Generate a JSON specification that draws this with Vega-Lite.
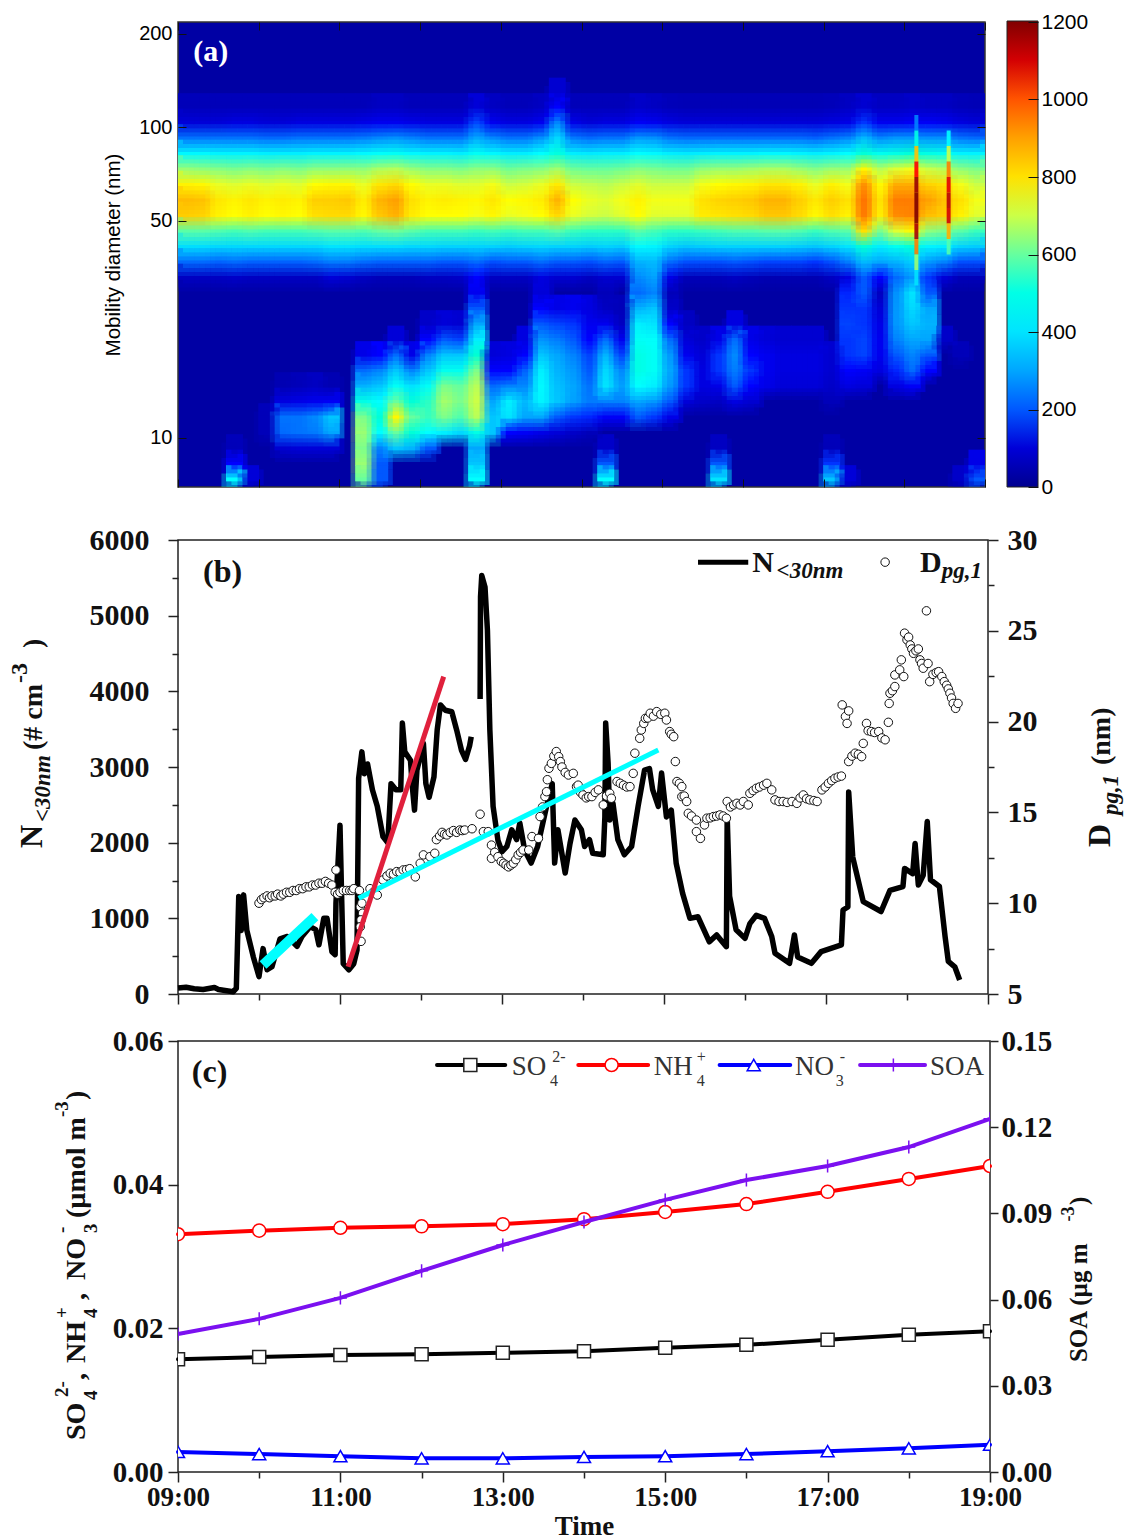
{"$schema":"https://vega.github.io/schema/vega-lite/v6.json","background":"white","padding":{"left":7,"top":10,"right":140,"bottom":70},"config":{"axis":{"grid":false,"labelOverlap":false,"labelBound":false,"labelFlush":false},"text":{"font":"Liberation Serif","color":"#111"}},"bounds":"flush","spacing":53,
"datasets":{"spike":[
{"t":18.0,"d":104,"v":250},{"t":18.0,"d":92,"v":500},{"t":18.0,"d":82,"v":850},{"t":18.0,"d":73,"v":1050},{"t":18.0,"d":65,"v":1170},{"t":18.0,"d":58,"v":1200},{"t":18.0,"d":52,"v":1200},{"t":18.0,"d":46,"v":1150},{"t":18.0,"d":41,"v":950},{"t":18.0,"d":37,"v":650},{"t":18.0,"d":33,"v":400},
{"t":18.4,"d":92,"v":450},{"t":18.4,"d":82,"v":700},{"t":18.4,"d":73,"v":950},{"t":18.4,"d":65,"v":1080},{"t":18.4,"d":58,"v":1130},{"t":18.4,"d":52,"v":1100},{"t":18.4,"d":46,"v":880},{"t":18.4,"d":41,"v":580}
],"heat":[
{"t":9.0,"d":116,"v":60},{"t":9.0,"d":104,"v":100},{"t":9.0,"d":92,"v":230},{"t":9.0,"d":82,"v":440},{"t":9.0,"d":73,"v":650},{"t":9.0,"d":65,"v":770},{"t":9.0,"d":58,"v":860},{"t":9.0,"d":52,"v":830},{"t":9.0,"d":46,"v":590},{"t":9.0,"d":41,"v":390},{"t":9.0,"d":37,"v":220},{"t":9.0,"d":33,"v":70},
{"t":9.2,"d":116,"v":60},{"t":9.2,"d":104,"v":100},{"t":9.2,"d":92,"v":230},{"t":9.2,"d":82,"v":440},{"t":9.2,"d":73,"v":640},{"t":9.2,"d":65,"v":760},{"t":9.2,"d":58,"v":850},{"t":9.2,"d":52,"v":820},{"t":9.2,"d":46,"v":590},{"t":9.2,"d":41,"v":390},{"t":9.2,"d":37,"v":220},{"t":9.2,"d":33,"v":70},
{"t":9.4,"d":116,"v":60},{"t":9.4,"d":104,"v":100},{"t":9.4,"d":92,"v":230},{"t":9.4,"d":82,"v":430},{"t":9.4,"d":73,"v":630},{"t":9.4,"d":65,"v":730},{"t":9.4,"d":58,"v":790},{"t":9.4,"d":52,"v":770},{"t":9.4,"d":46,"v":580},{"t":9.4,"d":41,"v":380},{"t":9.4,"d":37,"v":210},{"t":9.4,"d":33,"v":70},
{"t":9.6,"d":116,"v":60},{"t":9.6,"d":104,"v":110},{"t":9.6,"d":92,"v":230},{"t":9.6,"d":82,"v":430},{"t":9.6,"d":73,"v":620},{"t":9.6,"d":65,"v":720},{"t":9.6,"d":58,"v":770},{"t":9.6,"d":52,"v":750},{"t":9.6,"d":46,"v":570},{"t":9.6,"d":41,"v":380},{"t":9.6,"d":37,"v":220},{"t":9.6,"d":33,"v":80},{"t":9.6,"d":9,"v":60},{"t":9.6,"d":8,"v":150},{"t":9.6,"d":7,"v":450},
{"t":9.8,"d":116,"v":60},{"t":9.8,"d":104,"v":110},{"t":9.8,"d":92,"v":230},{"t":9.8,"d":82,"v":430},{"t":9.8,"d":73,"v":630},{"t":9.8,"d":65,"v":730},{"t":9.8,"d":58,"v":790},{"t":9.8,"d":52,"v":770},{"t":9.8,"d":46,"v":580},{"t":9.8,"d":41,"v":380},{"t":9.8,"d":37,"v":210},{"t":9.8,"d":33,"v":70},{"t":9.8,"d":7,"v":100},
{"t":10.0,"d":116,"v":60},{"t":10.0,"d":104,"v":100},{"t":10.0,"d":92,"v":220},{"t":10.0,"d":82,"v":420},{"t":10.0,"d":73,"v":620},{"t":10.0,"d":65,"v":720},{"t":10.0,"d":58,"v":770},{"t":10.0,"d":52,"v":750},{"t":10.0,"d":46,"v":570},{"t":10.0,"d":41,"v":380},{"t":10.0,"d":37,"v":210},{"t":10.0,"d":33,"v":70},{"t":10.0,"d":12,"v":60},{"t":10.0,"d":10,"v":60},
{"t":10.2,"d":116,"v":60},{"t":10.2,"d":104,"v":100},{"t":10.2,"d":92,"v":220},{"t":10.2,"d":82,"v":420},{"t":10.2,"d":73,"v":630},{"t":10.2,"d":65,"v":730},{"t":10.2,"d":58,"v":780},{"t":10.2,"d":52,"v":760},{"t":10.2,"d":46,"v":570},{"t":10.2,"d":41,"v":380},{"t":10.2,"d":37,"v":210},{"t":10.2,"d":33,"v":70},{"t":10.2,"d":15,"v":50},{"t":10.2,"d":13,"v":110},{"t":10.2,"d":12,"v":230},{"t":10.2,"d":10,"v":220},{"t":10.2,"d":9,"v":90},
{"t":10.4,"d":116,"v":60},{"t":10.4,"d":104,"v":110},{"t":10.4,"d":92,"v":230},{"t":10.4,"d":82,"v":420},{"t":10.4,"d":73,"v":620},{"t":10.4,"d":65,"v":720},{"t":10.4,"d":58,"v":770},{"t":10.4,"d":52,"v":750},{"t":10.4,"d":46,"v":570},{"t":10.4,"d":41,"v":380},{"t":10.4,"d":37,"v":210},{"t":10.4,"d":33,"v":70},{"t":10.4,"d":15,"v":60},{"t":10.4,"d":13,"v":120},{"t":10.4,"d":12,"v":230},{"t":10.4,"d":10,"v":230},{"t":10.4,"d":9,"v":100},
{"t":10.6,"d":116,"v":60},{"t":10.6,"d":104,"v":110},{"t":10.6,"d":92,"v":230},{"t":10.6,"d":82,"v":430},{"t":10.6,"d":73,"v":640},{"t":10.6,"d":65,"v":750},{"t":10.6,"d":58,"v":830},{"t":10.6,"d":52,"v":800},{"t":10.6,"d":46,"v":580},{"t":10.6,"d":41,"v":380},{"t":10.6,"d":37,"v":220},{"t":10.6,"d":33,"v":70},{"t":10.6,"d":15,"v":70},{"t":10.6,"d":13,"v":130},{"t":10.6,"d":12,"v":260},{"t":10.6,"d":10,"v":240},{"t":10.6,"d":9,"v":100},
{"t":10.8,"d":116,"v":60},{"t":10.8,"d":104,"v":110},{"t":10.8,"d":92,"v":230},{"t":10.8,"d":82,"v":430},{"t":10.8,"d":73,"v":640},{"t":10.8,"d":65,"v":760},{"t":10.8,"d":58,"v":830},{"t":10.8,"d":52,"v":810},{"t":10.8,"d":46,"v":590},{"t":10.8,"d":41,"v":400},{"t":10.8,"d":37,"v":240},{"t":10.8,"d":33,"v":100},{"t":10.8,"d":15,"v":50},{"t":10.8,"d":13,"v":140},{"t":10.8,"d":12,"v":350},{"t":10.8,"d":10,"v":300},{"t":10.8,"d":9,"v":100},
{"t":11.0,"d":116,"v":60},{"t":11.0,"d":104,"v":110},{"t":11.0,"d":92,"v":230},{"t":11.0,"d":82,"v":430},{"t":11.0,"d":73,"v":640},{"t":11.0,"d":65,"v":760},{"t":11.0,"d":58,"v":840},{"t":11.0,"d":52,"v":810},{"t":11.0,"d":46,"v":590},{"t":11.0,"d":41,"v":400},{"t":11.0,"d":37,"v":240},{"t":11.0,"d":33,"v":90},
{"t":11.2,"d":116,"v":60},{"t":11.2,"d":104,"v":120},{"t":11.2,"d":92,"v":240},{"t":11.2,"d":82,"v":440},{"t":11.2,"d":73,"v":640},{"t":11.2,"d":65,"v":730},{"t":11.2,"d":58,"v":780},{"t":11.2,"d":52,"v":760},{"t":11.2,"d":46,"v":580},{"t":11.2,"d":41,"v":390},{"t":11.2,"d":37,"v":220},{"t":11.2,"d":33,"v":70},{"t":11.2,"d":18,"v":120},{"t":11.2,"d":16,"v":220},{"t":11.2,"d":15,"v":320},{"t":11.2,"d":13,"v":500},{"t":11.2,"d":12,"v":620},{"t":11.2,"d":10,"v":650},{"t":11.2,"d":9,"v":620},{"t":11.2,"d":8,"v":650},{"t":11.2,"d":7,"v":600},
{"t":11.4,"d":116,"v":70},{"t":11.4,"d":104,"v":130},{"t":11.4,"d":92,"v":260},{"t":11.4,"d":82,"v":460},{"t":11.4,"d":73,"v":670},{"t":11.4,"d":65,"v":790},{"t":11.4,"d":58,"v":870},{"t":11.4,"d":52,"v":840},{"t":11.4,"d":46,"v":600},{"t":11.4,"d":41,"v":390},{"t":11.4,"d":37,"v":210},{"t":11.4,"d":33,"v":60},{"t":11.4,"d":18,"v":150},{"t":11.4,"d":16,"v":250},{"t":11.4,"d":15,"v":350},{"t":11.4,"d":13,"v":450},{"t":11.4,"d":12,"v":520},{"t":11.4,"d":10,"v":450},{"t":11.4,"d":9,"v":250},{"t":11.4,"d":8,"v":200},{"t":11.4,"d":7,"v":200},
{"t":11.6,"d":116,"v":70},{"t":11.6,"d":104,"v":130},{"t":11.6,"d":92,"v":270},{"t":11.6,"d":82,"v":470},{"t":11.6,"d":73,"v":680},{"t":11.6,"d":65,"v":810},{"t":11.6,"d":58,"v":900},{"t":11.6,"d":52,"v":870},{"t":11.6,"d":46,"v":610},{"t":11.6,"d":41,"v":390},{"t":11.6,"d":37,"v":210},{"t":11.6,"d":33,"v":60},{"t":11.6,"d":21,"v":100},{"t":11.6,"d":18,"v":220},{"t":11.6,"d":16,"v":350},{"t":11.6,"d":15,"v":470},{"t":11.6,"d":13,"v":600},{"t":11.6,"d":12,"v":760},{"t":11.6,"d":10,"v":600},{"t":11.6,"d":9,"v":350},
{"t":11.8,"d":116,"v":60},{"t":11.8,"d":104,"v":120},{"t":11.8,"d":92,"v":250},{"t":11.8,"d":82,"v":440},{"t":11.8,"d":73,"v":650},{"t":11.8,"d":65,"v":750},{"t":11.8,"d":58,"v":800},{"t":11.8,"d":52,"v":780},{"t":11.8,"d":46,"v":590},{"t":11.8,"d":41,"v":380},{"t":11.8,"d":37,"v":210},{"t":11.8,"d":33,"v":60},{"t":11.8,"d":18,"v":120},{"t":11.8,"d":16,"v":250},{"t":11.8,"d":15,"v":400},{"t":11.8,"d":13,"v":520},{"t":11.8,"d":12,"v":600},{"t":11.8,"d":10,"v":520},{"t":11.8,"d":9,"v":320},
{"t":12.0,"d":116,"v":60},{"t":12.0,"d":104,"v":110},{"t":12.0,"d":92,"v":230},{"t":12.0,"d":82,"v":430},{"t":12.0,"d":73,"v":630},{"t":12.0,"d":65,"v":730},{"t":12.0,"d":58,"v":770},{"t":12.0,"d":52,"v":750},{"t":12.0,"d":46,"v":570},{"t":12.0,"d":41,"v":380},{"t":12.0,"d":37,"v":210},{"t":12.0,"d":33,"v":70},{"t":12.0,"d":23,"v":80},{"t":12.0,"d":21,"v":150},{"t":12.0,"d":18,"v":250},{"t":12.0,"d":16,"v":350},{"t":12.0,"d":15,"v":470},{"t":12.0,"d":13,"v":550},{"t":12.0,"d":12,"v":560},{"t":12.0,"d":10,"v":450},{"t":12.0,"d":9,"v":200},
{"t":12.2,"d":116,"v":60},{"t":12.2,"d":104,"v":110},{"t":12.2,"d":92,"v":230},{"t":12.2,"d":82,"v":430},{"t":12.2,"d":73,"v":630},{"t":12.2,"d":65,"v":730},{"t":12.2,"d":58,"v":780},{"t":12.2,"d":52,"v":750},{"t":12.2,"d":46,"v":570},{"t":12.2,"d":41,"v":370},{"t":12.2,"d":37,"v":200},{"t":12.2,"d":33,"v":70},{"t":12.2,"d":23,"v":100},{"t":12.2,"d":21,"v":200},{"t":12.2,"d":18,"v":350},{"t":12.2,"d":16,"v":480},{"t":12.2,"d":15,"v":620},{"t":12.2,"d":13,"v":660},{"t":12.2,"d":12,"v":620},{"t":12.2,"d":10,"v":420},
{"t":12.4,"d":116,"v":60},{"t":12.4,"d":104,"v":110},{"t":12.4,"d":92,"v":230},{"t":12.4,"d":82,"v":420},{"t":12.4,"d":73,"v":620},{"t":12.4,"d":65,"v":720},{"t":12.4,"d":58,"v":770},{"t":12.4,"d":52,"v":750},{"t":12.4,"d":46,"v":570},{"t":12.4,"d":41,"v":370},{"t":12.4,"d":37,"v":200},{"t":12.4,"d":33,"v":80},{"t":12.4,"d":23,"v":90},{"t":12.4,"d":21,"v":180},{"t":12.4,"d":18,"v":350},{"t":12.4,"d":16,"v":480},{"t":12.4,"d":15,"v":600},{"t":12.4,"d":13,"v":620},{"t":12.4,"d":12,"v":580},{"t":12.4,"d":10,"v":380},
{"t":12.6,"d":116,"v":100},{"t":12.6,"d":104,"v":180},{"t":12.6,"d":92,"v":300},{"t":12.6,"d":82,"v":470},{"t":12.6,"d":73,"v":640},{"t":12.6,"d":65,"v":720},{"t":12.6,"d":58,"v":760},{"t":12.6,"d":52,"v":740},{"t":12.6,"d":46,"v":560},{"t":12.6,"d":41,"v":370},{"t":12.6,"d":37,"v":220},{"t":12.6,"d":33,"v":150},{"t":12.6,"d":29,"v":130},{"t":12.6,"d":26,"v":200},{"t":12.6,"d":23,"v":300},{"t":12.6,"d":21,"v":420},{"t":12.6,"d":18,"v":530},{"t":12.6,"d":16,"v":620},{"t":12.6,"d":15,"v":680},{"t":12.6,"d":13,"v":700},{"t":12.6,"d":12,"v":680},{"t":12.6,"d":10,"v":500},{"t":12.6,"d":9,"v":300},{"t":12.6,"d":8,"v":350},{"t":12.6,"d":7,"v":450},
{"t":12.8,"d":116,"v":70},{"t":12.8,"d":104,"v":130},{"t":12.8,"d":92,"v":260},{"t":12.8,"d":82,"v":440},{"t":12.8,"d":73,"v":640},{"t":12.8,"d":65,"v":740},{"t":12.8,"d":58,"v":790},{"t":12.8,"d":52,"v":760},{"t":12.8,"d":46,"v":570},{"t":12.8,"d":41,"v":370},{"t":12.8,"d":37,"v":190},{"t":12.8,"d":33,"v":70},{"t":12.8,"d":18,"v":100},{"t":12.8,"d":16,"v":150},{"t":12.8,"d":15,"v":220},{"t":12.8,"d":13,"v":300},{"t":12.8,"d":12,"v":350},{"t":12.8,"d":10,"v":350},
{"t":13.0,"d":116,"v":60},{"t":13.0,"d":104,"v":110},{"t":13.0,"d":92,"v":230},{"t":13.0,"d":82,"v":420},{"t":13.0,"d":73,"v":610},{"t":13.0,"d":65,"v":700},{"t":13.0,"d":58,"v":750},{"t":13.0,"d":52,"v":730},{"t":13.0,"d":46,"v":560},{"t":13.0,"d":41,"v":360},{"t":13.0,"d":37,"v":200},{"t":13.0,"d":33,"v":70},{"t":13.0,"d":18,"v":110},{"t":13.0,"d":16,"v":150},{"t":13.0,"d":15,"v":250},{"t":13.0,"d":13,"v":420},{"t":13.0,"d":12,"v":400},{"t":13.0,"d":10,"v":150},
{"t":13.2,"d":116,"v":60},{"t":13.2,"d":104,"v":110},{"t":13.2,"d":92,"v":230},{"t":13.2,"d":82,"v":420},{"t":13.2,"d":73,"v":620},{"t":13.2,"d":65,"v":710},{"t":13.2,"d":58,"v":760},{"t":13.2,"d":52,"v":740},{"t":13.2,"d":46,"v":570},{"t":13.2,"d":41,"v":370},{"t":13.2,"d":37,"v":200},{"t":13.2,"d":33,"v":70},{"t":13.2,"d":21,"v":110},{"t":13.2,"d":18,"v":150},{"t":13.2,"d":16,"v":210},{"t":13.2,"d":15,"v":260},{"t":13.2,"d":13,"v":330},{"t":13.2,"d":12,"v":300},{"t":13.2,"d":10,"v":140},
{"t":13.4,"d":116,"v":70},{"t":13.4,"d":104,"v":130},{"t":13.4,"d":92,"v":270},{"t":13.4,"d":82,"v":450},{"t":13.4,"d":73,"v":630},{"t":13.4,"d":65,"v":730},{"t":13.4,"d":58,"v":780},{"t":13.4,"d":52,"v":750},{"t":13.4,"d":46,"v":570},{"t":13.4,"d":41,"v":380},{"t":13.4,"d":37,"v":220},{"t":13.4,"d":33,"v":110},{"t":13.4,"d":29,"v":100},{"t":13.4,"d":26,"v":150},{"t":13.4,"d":23,"v":200},{"t":13.4,"d":21,"v":270},{"t":13.4,"d":18,"v":350},{"t":13.4,"d":16,"v":420},{"t":13.4,"d":15,"v":440},{"t":13.4,"d":13,"v":430},{"t":13.4,"d":12,"v":300},{"t":13.4,"d":10,"v":120},
{"t":13.6,"d":130,"v":90},{"t":13.6,"d":116,"v":150},{"t":13.6,"d":104,"v":250},{"t":13.6,"d":92,"v":380},{"t":13.6,"d":82,"v":510},{"t":13.6,"d":73,"v":660},{"t":13.6,"d":65,"v":780},{"t":13.6,"d":58,"v":870},{"t":13.6,"d":52,"v":810},{"t":13.6,"d":46,"v":590},{"t":13.6,"d":41,"v":370},{"t":13.6,"d":37,"v":200},{"t":13.6,"d":33,"v":90},{"t":13.6,"d":26,"v":120},{"t":13.6,"d":23,"v":180},{"t":13.6,"d":21,"v":240},{"t":13.6,"d":18,"v":300},{"t":13.6,"d":16,"v":320},{"t":13.6,"d":15,"v":340},{"t":13.6,"d":13,"v":350},{"t":13.6,"d":12,"v":200},{"t":13.6,"d":10,"v":100},
{"t":13.8,"d":116,"v":60},{"t":13.8,"d":104,"v":120},{"t":13.8,"d":92,"v":240},{"t":13.8,"d":82,"v":420},{"t":13.8,"d":73,"v":610},{"t":13.8,"d":65,"v":700},{"t":13.8,"d":58,"v":750},{"t":13.8,"d":52,"v":730},{"t":13.8,"d":46,"v":560},{"t":13.8,"d":41,"v":370},{"t":13.8,"d":37,"v":200},{"t":13.8,"d":33,"v":90},{"t":13.8,"d":26,"v":130},{"t":13.8,"d":23,"v":170},{"t":13.8,"d":21,"v":200},{"t":13.8,"d":18,"v":250},{"t":13.8,"d":16,"v":280},{"t":13.8,"d":15,"v":300},{"t":13.8,"d":13,"v":290},{"t":13.8,"d":12,"v":170},{"t":13.8,"d":10,"v":80},
{"t":14.0,"d":116,"v":60},{"t":14.0,"d":104,"v":100},{"t":14.0,"d":92,"v":220},{"t":14.0,"d":82,"v":410},{"t":14.0,"d":73,"v":600},{"t":14.0,"d":65,"v":690},{"t":14.0,"d":58,"v":730},{"t":14.0,"d":52,"v":710},{"t":14.0,"d":46,"v":550},{"t":14.0,"d":41,"v":360},{"t":14.0,"d":37,"v":190},{"t":14.0,"d":33,"v":70},{"t":14.0,"d":26,"v":110},{"t":14.0,"d":23,"v":130},{"t":14.0,"d":21,"v":150},{"t":14.0,"d":18,"v":180},{"t":14.0,"d":16,"v":200},{"t":14.0,"d":15,"v":230},{"t":14.0,"d":13,"v":240},{"t":14.0,"d":12,"v":160},{"t":14.0,"d":10,"v":60},
{"t":14.2,"d":116,"v":60},{"t":14.2,"d":104,"v":110},{"t":14.2,"d":92,"v":230},{"t":14.2,"d":82,"v":420},{"t":14.2,"d":73,"v":600},{"t":14.2,"d":65,"v":680},{"t":14.2,"d":58,"v":720},{"t":14.2,"d":52,"v":700},{"t":14.2,"d":46,"v":550},{"t":14.2,"d":41,"v":370},{"t":14.2,"d":37,"v":210},{"t":14.2,"d":33,"v":90},{"t":14.2,"d":29,"v":60},{"t":14.2,"d":26,"v":70},{"t":14.2,"d":23,"v":130},{"t":14.2,"d":21,"v":220},{"t":14.2,"d":18,"v":320},{"t":14.2,"d":16,"v":380},{"t":14.2,"d":15,"v":400},{"t":14.2,"d":13,"v":250},{"t":14.2,"d":12,"v":140},{"t":14.2,"d":9,"v":80},{"t":14.2,"d":8,"v":200},{"t":14.2,"d":7,"v":450},
{"t":14.4,"d":116,"v":60},{"t":14.4,"d":104,"v":110},{"t":14.4,"d":92,"v":230},{"t":14.4,"d":82,"v":420},{"t":14.4,"d":73,"v":610},{"t":14.4,"d":65,"v":700},{"t":14.4,"d":58,"v":740},{"t":14.4,"d":52,"v":720},{"t":14.4,"d":46,"v":550},{"t":14.4,"d":41,"v":360},{"t":14.4,"d":37,"v":200},{"t":14.4,"d":33,"v":90},{"t":14.4,"d":26,"v":60},{"t":14.4,"d":23,"v":70},{"t":14.4,"d":21,"v":130},{"t":14.4,"d":18,"v":180},{"t":14.4,"d":16,"v":260},{"t":14.4,"d":15,"v":290},{"t":14.4,"d":13,"v":250},{"t":14.4,"d":12,"v":140},
{"t":14.6,"d":116,"v":80},{"t":14.6,"d":104,"v":140},{"t":14.6,"d":92,"v":280},{"t":14.6,"d":82,"v":450},{"t":14.6,"d":73,"v":630},{"t":14.6,"d":65,"v":720},{"t":14.6,"d":58,"v":770},{"t":14.6,"d":52,"v":750},{"t":14.6,"d":46,"v":590},{"t":14.6,"d":41,"v":440},{"t":14.6,"d":37,"v":320},{"t":14.6,"d":33,"v":260},{"t":14.6,"d":29,"v":220},{"t":14.6,"d":26,"v":320},{"t":14.6,"d":23,"v":420},{"t":14.6,"d":21,"v":470},{"t":14.6,"d":18,"v":500},{"t":14.6,"d":16,"v":500},{"t":14.6,"d":15,"v":450},{"t":14.6,"d":13,"v":300},{"t":14.6,"d":12,"v":200},
{"t":14.8,"d":116,"v":70},{"t":14.8,"d":104,"v":130},{"t":14.8,"d":92,"v":270},{"t":14.8,"d":82,"v":440},{"t":14.8,"d":73,"v":620},{"t":14.8,"d":65,"v":700},{"t":14.8,"d":58,"v":740},{"t":14.8,"d":52,"v":720},{"t":14.8,"d":46,"v":570},{"t":14.8,"d":41,"v":430},{"t":14.8,"d":37,"v":330},{"t":14.8,"d":33,"v":290},{"t":14.8,"d":29,"v":250},{"t":14.8,"d":26,"v":350},{"t":14.8,"d":23,"v":400},{"t":14.8,"d":21,"v":460},{"t":14.8,"d":18,"v":470},{"t":14.8,"d":16,"v":470},{"t":14.8,"d":15,"v":420},{"t":14.8,"d":13,"v":280},{"t":14.8,"d":12,"v":170},
{"t":15.0,"d":116,"v":60},{"t":15.0,"d":104,"v":110},{"t":15.0,"d":92,"v":230},{"t":15.0,"d":82,"v":420},{"t":15.0,"d":73,"v":610},{"t":15.0,"d":65,"v":700},{"t":15.0,"d":58,"v":740},{"t":15.0,"d":52,"v":720},{"t":15.0,"d":46,"v":550},{"t":15.0,"d":41,"v":370},{"t":15.0,"d":37,"v":220},{"t":15.0,"d":33,"v":120},{"t":15.0,"d":29,"v":60},{"t":15.0,"d":26,"v":80},{"t":15.0,"d":23,"v":150},{"t":15.0,"d":21,"v":220},{"t":15.0,"d":18,"v":280},{"t":15.0,"d":16,"v":300},{"t":15.0,"d":15,"v":280},{"t":15.0,"d":13,"v":200},{"t":15.0,"d":12,"v":120},
{"t":15.2,"d":116,"v":55},{"t":15.2,"d":104,"v":100},{"t":15.2,"d":92,"v":220},{"t":15.2,"d":82,"v":410},{"t":15.2,"d":73,"v":610},{"t":15.2,"d":65,"v":700},{"t":15.2,"d":58,"v":740},{"t":15.2,"d":52,"v":720},{"t":15.2,"d":46,"v":550},{"t":15.2,"d":41,"v":350},{"t":15.2,"d":37,"v":190},{"t":15.2,"d":33,"v":60},{"t":15.2,"d":23,"v":70},{"t":15.2,"d":21,"v":100},{"t":15.2,"d":18,"v":130},{"t":15.2,"d":16,"v":170},{"t":15.2,"d":15,"v":170},{"t":15.2,"d":13,"v":100},
{"t":15.4,"d":116,"v":55},{"t":15.4,"d":104,"v":100},{"t":15.4,"d":92,"v":220},{"t":15.4,"d":82,"v":420},{"t":15.4,"d":73,"v":640},{"t":15.4,"d":65,"v":740},{"t":15.4,"d":58,"v":800},{"t":15.4,"d":52,"v":780},{"t":15.4,"d":46,"v":560},{"t":15.4,"d":41,"v":360},{"t":15.4,"d":37,"v":190},{"t":15.4,"d":33,"v":60},{"t":15.4,"d":21,"v":80},{"t":15.4,"d":18,"v":100},{"t":15.4,"d":16,"v":110},{"t":15.4,"d":15,"v":110},{"t":15.4,"d":13,"v":80},
{"t":15.6,"d":116,"v":55},{"t":15.6,"d":104,"v":100},{"t":15.6,"d":92,"v":220},{"t":15.6,"d":82,"v":430},{"t":15.6,"d":73,"v":650},{"t":15.6,"d":65,"v":750},{"t":15.6,"d":58,"v":820},{"t":15.6,"d":52,"v":790},{"t":15.6,"d":46,"v":570},{"t":15.6,"d":41,"v":370},{"t":15.6,"d":37,"v":190},{"t":15.6,"d":33,"v":60},{"t":15.6,"d":21,"v":120},{"t":15.6,"d":18,"v":170},{"t":15.6,"d":16,"v":170},{"t":15.6,"d":15,"v":120},{"t":15.6,"d":13,"v":70},{"t":15.6,"d":9,"v":70},{"t":15.6,"d":8,"v":200},{"t":15.6,"d":7,"v":400},
{"t":15.8,"d":116,"v":55},{"t":15.8,"d":104,"v":100},{"t":15.8,"d":92,"v":220},{"t":15.8,"d":82,"v":430},{"t":15.8,"d":73,"v":650},{"t":15.8,"d":65,"v":760},{"t":15.8,"d":58,"v":830},{"t":15.8,"d":52,"v":800},{"t":15.8,"d":46,"v":580},{"t":15.8,"d":41,"v":370},{"t":15.8,"d":37,"v":200},{"t":15.8,"d":33,"v":70},{"t":15.8,"d":23,"v":110},{"t":15.8,"d":21,"v":220},{"t":15.8,"d":18,"v":260},{"t":15.8,"d":16,"v":240},{"t":15.8,"d":15,"v":200},{"t":15.8,"d":13,"v":110},
{"t":16.0,"d":116,"v":55},{"t":16.0,"d":104,"v":100},{"t":16.0,"d":92,"v":220},{"t":16.0,"d":82,"v":430},{"t":16.0,"d":73,"v":660},{"t":16.0,"d":65,"v":770},{"t":16.0,"d":58,"v":840},{"t":16.0,"d":52,"v":810},{"t":16.0,"d":46,"v":580},{"t":16.0,"d":41,"v":370},{"t":16.0,"d":37,"v":190},{"t":16.0,"d":33,"v":60},{"t":16.0,"d":21,"v":120},{"t":16.0,"d":18,"v":150},{"t":16.0,"d":16,"v":170},{"t":16.0,"d":15,"v":150},{"t":16.0,"d":13,"v":90},
{"t":16.2,"d":116,"v":55},{"t":16.2,"d":104,"v":100},{"t":16.2,"d":92,"v":220},{"t":16.2,"d":82,"v":440},{"t":16.2,"d":73,"v":670},{"t":16.2,"d":65,"v":790},{"t":16.2,"d":58,"v":870},{"t":16.2,"d":52,"v":840},{"t":16.2,"d":46,"v":590},{"t":16.2,"d":41,"v":370},{"t":16.2,"d":37,"v":180},{"t":16.2,"d":33,"v":50},{"t":16.2,"d":21,"v":100},{"t":16.2,"d":18,"v":130},{"t":16.2,"d":16,"v":130},{"t":16.2,"d":15,"v":120},
{"t":16.4,"d":116,"v":55},{"t":16.4,"d":104,"v":100},{"t":16.4,"d":92,"v":220},{"t":16.4,"d":82,"v":440},{"t":16.4,"d":73,"v":670},{"t":16.4,"d":65,"v":790},{"t":16.4,"d":58,"v":870},{"t":16.4,"d":52,"v":840},{"t":16.4,"d":46,"v":590},{"t":16.4,"d":41,"v":370},{"t":16.4,"d":37,"v":180},{"t":16.4,"d":33,"v":50},{"t":16.4,"d":21,"v":90},{"t":16.4,"d":18,"v":110},{"t":16.4,"d":16,"v":110},{"t":16.4,"d":15,"v":100},
{"t":16.6,"d":116,"v":55},{"t":16.6,"d":104,"v":100},{"t":16.6,"d":92,"v":220},{"t":16.6,"d":82,"v":430},{"t":16.6,"d":73,"v":650},{"t":16.6,"d":65,"v":770},{"t":16.6,"d":58,"v":830},{"t":16.6,"d":52,"v":810},{"t":16.6,"d":46,"v":580},{"t":16.6,"d":41,"v":360},{"t":16.6,"d":37,"v":180},{"t":16.6,"d":33,"v":50},{"t":16.6,"d":21,"v":90},{"t":16.6,"d":18,"v":110},{"t":16.6,"d":16,"v":110},{"t":16.6,"d":15,"v":100},
{"t":16.8,"d":116,"v":55},{"t":16.8,"d":104,"v":100},{"t":16.8,"d":92,"v":210},{"t":16.8,"d":82,"v":420},{"t":16.8,"d":73,"v":630},{"t":16.8,"d":65,"v":730},{"t":16.8,"d":58,"v":790},{"t":16.8,"d":52,"v":760},{"t":16.8,"d":46,"v":560},{"t":16.8,"d":41,"v":350},{"t":16.8,"d":37,"v":170},{"t":16.8,"d":33,"v":50},{"t":16.8,"d":21,"v":90},{"t":16.8,"d":18,"v":110},{"t":16.8,"d":16,"v":110},{"t":16.8,"d":15,"v":100},
{"t":17.0,"d":116,"v":60},{"t":17.0,"d":104,"v":110},{"t":17.0,"d":92,"v":230},{"t":17.0,"d":82,"v":430},{"t":17.0,"d":73,"v":650},{"t":17.0,"d":65,"v":770},{"t":17.0,"d":58,"v":830},{"t":17.0,"d":52,"v":800},{"t":17.0,"d":46,"v":580},{"t":17.0,"d":41,"v":370},{"t":17.0,"d":37,"v":190},{"t":17.0,"d":33,"v":70},{"t":17.0,"d":18,"v":90},{"t":17.0,"d":16,"v":90},{"t":17.0,"d":15,"v":80},{"t":17.0,"d":13,"v":60},{"t":17.0,"d":9,"v":60},{"t":17.0,"d":8,"v":170},{"t":17.0,"d":7,"v":350},
{"t":17.2,"d":116,"v":70},{"t":17.2,"d":104,"v":120},{"t":17.2,"d":92,"v":250},{"t":17.2,"d":82,"v":450},{"t":17.2,"d":73,"v":650},{"t":17.2,"d":65,"v":740},{"t":17.2,"d":58,"v":800},{"t":17.2,"d":52,"v":770},{"t":17.2,"d":46,"v":590},{"t":17.2,"d":41,"v":400},{"t":17.2,"d":37,"v":240},{"t":17.2,"d":33,"v":110},{"t":17.2,"d":29,"v":160},{"t":17.2,"d":26,"v":170},{"t":17.2,"d":23,"v":180},{"t":17.2,"d":21,"v":170},{"t":17.2,"d":18,"v":170},{"t":17.2,"d":16,"v":150},{"t":17.2,"d":15,"v":110},{"t":17.2,"d":7,"v":100},
{"t":17.4,"d":116,"v":90},{"t":17.4,"d":104,"v":170},{"t":17.4,"d":92,"v":330},{"t":17.4,"d":82,"v":520},{"t":17.4,"d":73,"v":760},{"t":17.4,"d":65,"v":920},{"t":17.4,"d":58,"v":960},{"t":17.4,"d":52,"v":950},{"t":17.4,"d":46,"v":800},{"t":17.4,"d":41,"v":520},{"t":17.4,"d":37,"v":330},{"t":17.4,"d":33,"v":200},{"t":17.4,"d":29,"v":200},{"t":17.4,"d":26,"v":170},{"t":17.4,"d":23,"v":170},{"t":17.4,"d":21,"v":180},{"t":17.4,"d":18,"v":180},{"t":17.4,"d":16,"v":140},{"t":17.4,"d":15,"v":100},
{"t":17.6,"d":116,"v":70},{"t":17.6,"d":104,"v":130},{"t":17.6,"d":92,"v":260},{"t":17.6,"d":82,"v":480},{"t":17.6,"d":73,"v":680},{"t":17.6,"d":65,"v":760},{"t":17.6,"d":58,"v":800},{"t":17.6,"d":52,"v":780},{"t":17.6,"d":46,"v":620},{"t":17.6,"d":41,"v":420},{"t":17.6,"d":37,"v":300},{"t":17.6,"d":33,"v":150},{"t":17.6,"d":29,"v":70},{"t":17.6,"d":26,"v":100},{"t":17.6,"d":23,"v":120},{"t":17.6,"d":21,"v":130},{"t":17.6,"d":18,"v":130},{"t":17.6,"d":16,"v":110},
{"t":17.8,"d":116,"v":70},{"t":17.8,"d":104,"v":130},{"t":17.8,"d":92,"v":280},{"t":17.8,"d":82,"v":500},{"t":17.8,"d":73,"v":720},{"t":17.8,"d":65,"v":880},{"t":17.8,"d":58,"v":950},{"t":17.8,"d":52,"v":930},{"t":17.8,"d":46,"v":720},{"t":17.8,"d":41,"v":480},{"t":17.8,"d":37,"v":320},{"t":17.8,"d":33,"v":220},{"t":17.8,"d":29,"v":270},{"t":17.8,"d":26,"v":280},{"t":17.8,"d":23,"v":280},{"t":17.8,"d":21,"v":250},{"t":17.8,"d":18,"v":200},{"t":17.8,"d":16,"v":160},{"t":17.8,"d":15,"v":110},
{"t":18.0,"d":116,"v":80},{"t":18.0,"d":104,"v":140},{"t":18.0,"d":92,"v":280},{"t":18.0,"d":82,"v":520},{"t":18.0,"d":73,"v":740},{"t":18.0,"d":65,"v":880},{"t":18.0,"d":58,"v":950},{"t":18.0,"d":52,"v":940},{"t":18.0,"d":46,"v":760},{"t":18.0,"d":41,"v":520},{"t":18.0,"d":37,"v":360},{"t":18.0,"d":33,"v":280},{"t":18.0,"d":29,"v":400},{"t":18.0,"d":26,"v":380},{"t":18.0,"d":23,"v":350},{"t":18.0,"d":21,"v":300},{"t":18.0,"d":18,"v":250},{"t":18.0,"d":16,"v":220},{"t":18.0,"d":15,"v":140},
{"t":18.2,"d":116,"v":70},{"t":18.2,"d":104,"v":140},{"t":18.2,"d":92,"v":270},{"t":18.2,"d":82,"v":500},{"t":18.2,"d":73,"v":700},{"t":18.2,"d":65,"v":820},{"t":18.2,"d":58,"v":900},{"t":18.2,"d":52,"v":850},{"t":18.2,"d":46,"v":640},{"t":18.2,"d":41,"v":430},{"t":18.2,"d":37,"v":280},{"t":18.2,"d":33,"v":170},{"t":18.2,"d":29,"v":200},{"t":18.2,"d":26,"v":300},{"t":18.2,"d":23,"v":320},{"t":18.2,"d":21,"v":300},{"t":18.2,"d":18,"v":200},{"t":18.2,"d":16,"v":150},
{"t":18.4,"d":116,"v":70},{"t":18.4,"d":104,"v":130},{"t":18.4,"d":92,"v":270},{"t":18.4,"d":82,"v":480},{"t":18.4,"d":73,"v":680},{"t":18.4,"d":65,"v":800},{"t":18.4,"d":58,"v":850},{"t":18.4,"d":52,"v":830},{"t":18.4,"d":46,"v":620},{"t":18.4,"d":41,"v":420},{"t":18.4,"d":37,"v":250},{"t":18.4,"d":33,"v":100},{"t":18.4,"d":21,"v":80},
{"t":18.6,"d":116,"v":60},{"t":18.6,"d":104,"v":110},{"t":18.6,"d":92,"v":230},{"t":18.6,"d":82,"v":430},{"t":18.6,"d":73,"v":640},{"t":18.6,"d":65,"v":740},{"t":18.6,"d":58,"v":800},{"t":18.6,"d":52,"v":770},{"t":18.6,"d":46,"v":590},{"t":18.6,"d":41,"v":370},{"t":18.6,"d":37,"v":190},{"t":18.6,"d":33,"v":60},{"t":18.6,"d":18,"v":60},{"t":18.6,"d":7,"v":80},
{"t":18.8,"d":116,"v":55},{"t":18.8,"d":104,"v":100},{"t":18.8,"d":92,"v":220},{"t":18.8,"d":82,"v":430},{"t":18.8,"d":73,"v":620},{"t":18.8,"d":65,"v":700},{"t":18.8,"d":58,"v":740},{"t":18.8,"d":52,"v":720},{"t":18.8,"d":46,"v":560},{"t":18.8,"d":41,"v":360},{"t":18.8,"d":37,"v":190},{"t":18.8,"d":33,"v":60},{"t":18.8,"d":8,"v":120},{"t":18.8,"d":7,"v":200}
]},
"vconcat":[
{"width":807,"height":465,"view":{"fill":"#0000a4","stroke":"#333","strokeWidth":1.5},"resolve":{"scale":{"x":"independent","y":"independent"}},"layer":[
{"encoding":{
"x":{"field":"t","type":"ordinal","sort":null,"axis":null,"scale":{"paddingInner":0,"paddingOuter":0,"domain":[9.0,9.2,9.4,9.6,9.8,10.0,10.2,10.4,10.6,10.8,11.0,11.2,11.4,11.6,11.8,12.0,12.2,12.4,12.6,12.8,13.0,13.2,13.4,13.6,13.8,14.0,14.2,14.4,14.6,14.8,15.0,15.2,15.4,15.6,15.8,16.0,16.2,16.4,16.6,16.8,17.0,17.2,17.4,17.6,17.8,18.0,18.2,18.4,18.6,18.8]}},
"y":{"field":"d","type":"ordinal","sort":null,"axis":null,"scale":{"paddingInner":0,"paddingOuter":0,"domain":[206,184,164,146,130,116,104,92,82,73,65,58,52,46,41,37,33,29,26,23,21,18,16,15,13,12,10,9,8,7]}},
"color":{"field":"v","type":"quantitative","scale":{"domain":[0,150,450,750,1050,1200],"range":["#00008f","#0000ff","#00ffff","#ffff00","#ff0000","#800000"]},"legend":{"type":"gradient","orient":"none","legendX":829,"legendY":-1,"title":null,"gradientLength":466,"gradientThickness":31,"gradientStrokeColor":"#222","gradientStrokeWidth":1,"labelExpr":"''","values":[0,1200]}}},
"layer":[
{"data":{"name":"heat"},"mark":{"type":"rect","clip":true,"xOffset":0,"yOffset":-6,"width":16.9,"height":16.2}},
{"data":{"name":"heat"},"mark":{"type":"rect","clip":true,"xOffset":5,"yOffset":-2,"fillOpacity":0.5}},
{"data":{"name":"heat"},"mark":{"type":"rect","clip":true,"xOffset":-5,"yOffset":2,"fillOpacity":0.33}},
{"data":{"name":"heat"},"mark":{"type":"rect","clip":true,"xOffset":0,"yOffset":6,"fillOpacity":0.25}},
{"data":{"name":"spike"},"mark":{"type":"rect","clip":true,"xOffset":4,"width":4,"fillOpacity":0.9}}
]},
{"data":{"values":[{"t":9.19,"d":163.6,"s":"(a)"}]},"mark":{"type":"text","align":"left","baseline":"alphabetic","fontSize":30,"fontWeight":"bold","color":"white"},"encoding":{"text":{"field":"s"},
"x":{"field":"t","type":"quantitative","scale":{"domain":[9,19],"nice":false},"axis":{"orient":"bottom","values":[9,10,11,12,13,14,15,16,17,18,19],"labels":false,"title":null,"domain":false,"tickSize":-8,"tickColor":"#111","zindex":1}},
"y":{"field":"d","type":"quantitative","scale":{"type":"log","domain":[6.95,218],"nice":false},"axis":{"orient":"left","values":[10,50,100,200],"title":"Mobility diameter (nm)","titleFont":"Liberation Sans","titleFontWeight":"normal","titleFontSize":20.5,"titlePadding":15,"labelFont":"Liberation Sans","labelFontSize":20,"labelPadding":14,"domain":false,"tickSize":-8,"tickColor":"#111","zindex":1}}}},
{"data":{"values":[{"t":9,"d":100}]},"mark":{"type":"point","opacity":0},"encoding":{
"x":{"field":"t","type":"quantitative","scale":{"domain":[9,19],"nice":false},"axis":{"orient":"top","values":[9,10,11,12,13,14,15,16,17,18,19],"labels":false,"title":null,"domain":false,"tickSize":-8,"tickColor":"#111","zindex":1}},
"y":{"field":"d","type":"quantitative","scale":{"type":"log","domain":[6.95,218],"nice":false},"axis":{"orient":"right","values":[10,50,100,200],"labels":false,"title":null,"domain":false,"tickSize":-8,"tickColor":"#111","zindex":1}}}},
{"data":{"values":[{"t":9,"v":0}]},"mark":{"type":"point","opacity":0},"encoding":{
"x":{"field":"t","type":"quantitative","scale":{"domain":[9,19],"nice":false},"axis":null},
"y":{"field":"v","type":"quantitative","scale":{"domain":[0,1200],"nice":false},"axis":{"orient":"right","offset":53,"values":[0,200,400,600,800,1000,1200],"format":"d","title":null,"labelFont":"Liberation Sans","labelFontSize":21,"labelPadding":13,"domain":false,"tickSize":-10,"tickColor":"#111","zindex":1}}}}
]},
{"bounds":"flush","spacing":47,"vconcat":[
{"width":810,"height":454,"view":{"stroke":"#222","strokeWidth":1.5},"resolve":{"scale":{"y":"independent"}},"encoding":{"x":{"field":"t","type":"quantitative","scale":{"domain":[9,19],"nice":false},"axis":{"values":[9,10,11,12,13,14,15,16,17,18,19],"labels":false,"title":null,"domain":false,"tickColor":"#222","tickWidth":1.5,"tickSize":{"condition":{"test":"datum.value%2==1","value":10},"value":6}}}},"layer":[
{"data":{"values":[{"t":9.0,"n":80},{"t":9.1,"n":90},{"t":9.2,"n":70},{"t":9.31,"n":60},{"t":9.45,"n":85},{"t":9.5,"n":60},{"t":9.68,"n":30},{"t":9.72,"n":75},{"t":9.75,"n":1290},{"t":9.78,"n":840},{"t":9.81,"n":1310},{"t":9.85,"n":840},{"t":9.93,"n":490},{"t":10.0,"n":230},{"t":10.05,"n":600},{"t":10.1,"n":320},{"t":10.16,"n":360},{"t":10.26,"n":730},{"t":10.35,"n":760},{"t":10.47,"n":630},{"t":10.53,"n":760},{"t":10.63,"n":890},{"t":10.7,"n":850},{"t":10.74,"n":650},{"t":10.8,"n":1000},{"t":10.84,"n":1000},{"t":10.9,"n":560},{"t":10.94,"n":520},{"t":10.95,"n":1200},{"t":11.0,"n":2230},{"t":11.02,"n":1290},{"t":11.04,"n":400},{"t":11.11,"n":320},{"t":11.17,"n":400},{"t":11.21,"n":580},{"t":11.23,"n":2850},{"t":11.27,"n":3200},{"t":11.3,"n":2910},{"t":11.34,"n":3040},{"t":11.4,"n":2700},{"t":11.46,"n":2480},{"t":11.53,"n":2080},{"t":11.59,"n":2000},{"t":11.63,"n":2780},{"t":11.69,"n":2700},{"t":11.75,"n":2700},{"t":11.77,"n":3580},{"t":11.8,"n":3200},{"t":11.87,"n":3090},{"t":11.89,"n":2780},{"t":11.92,"n":2430},{"t":11.95,"n":2960},{"t":12.03,"n":3310},{"t":12.06,"n":2780},{"t":12.1,"n":2600},{"t":12.16,"n":2870},{"t":12.2,"n":3490},{"t":12.24,"n":3820},{"t":12.3,"n":3750},{"t":12.38,"n":3730},{"t":12.44,"n":3490},{"t":12.5,"n":3220},{"t":12.55,"n":3100},{"t":12.6,"n":3280},{"t":12.62,"n":3400},{"t":12.68,"n":null},{"t":12.73,"n":3900},{"t":12.735,"n":5250},{"t":12.75,"n":5530},{"t":12.79,"n":5380},{"t":12.82,"n":4810},{"t":12.85,"n":3490},{"t":12.89,"n":2480},{"t":12.95,"n":2030},{"t":13.0,"n":1880},{"t":13.06,"n":1950},{"t":13.12,"n":2170},{"t":13.18,"n":2040},{"t":13.22,"n":2260},{"t":13.28,"n":1900},{"t":13.36,"n":1730},{"t":13.44,"n":1950},{"t":13.55,"n":2480},{"t":13.62,"n":2780},{"t":13.65,"n":1730},{"t":13.69,"n":2170},{"t":13.78,"n":1600},{"t":13.84,"n":1990},{"t":13.9,"n":2300},{"t":13.98,"n":2170},{"t":14.02,"n":1950},{"t":14.08,"n":2040},{"t":14.12,"n":1860},{"t":14.25,"n":1840},{"t":14.27,"n":2340},{"t":14.28,"n":3580},{"t":14.31,"n":3050},{"t":14.33,"n":2300},{"t":14.37,"n":2520},{"t":14.43,"n":2040},{"t":14.51,"n":1840},{"t":14.6,"n":1950},{"t":14.68,"n":2480},{"t":14.76,"n":2960},{"t":14.82,"n":2980},{"t":14.86,"n":2700},{"t":14.93,"n":2480},{"t":14.97,"n":2920},{"t":15.03,"n":2340},{"t":15.09,"n":2430},{"t":15.15,"n":1730},{"t":15.23,"n":1330},{"t":15.32,"n":1000},{"t":15.42,"n":1020},{"t":15.56,"n":690},{"t":15.65,"n":780},{"t":15.77,"n":625},{"t":15.78,"n":2340},{"t":15.81,"n":1290},{"t":15.89,"n":850},{"t":16.0,"n":735},{"t":16.06,"n":930},{"t":16.14,"n":1040},{"t":16.24,"n":1000},{"t":16.33,"n":760},{"t":16.37,"n":540},{"t":16.55,"n":405},{"t":16.61,"n":780},{"t":16.65,"n":490},{"t":16.82,"n":405},{"t":16.94,"n":560},{"t":17.19,"n":650},{"t":17.21,"n":1110},{"t":17.27,"n":1150},{"t":17.28,"n":2670},{"t":17.33,"n":1810},{"t":17.46,"n":1220},{"t":17.68,"n":1090},{"t":17.79,"n":1370},{"t":17.95,"n":1420},{"t":17.97,"n":1660},{"t":18.07,"n":1590},{"t":18.1,"n":1990},{"t":18.14,"n":1440},{"t":18.2,"n":1570},{"t":18.25,"n":2280},{"t":18.29,"n":1510},{"t":18.4,"n":1420},{"t":18.47,"n":760},{"t":18.51,"n":430},{"t":18.59,"n":360},{"t":18.65,"n":185}]},
"mark":{"type":"line","color":"#000","strokeWidth":5.5,"strokeJoin":"round"},"encoding":{"y":{"field":"n","type":"quantitative","scale":{"domain":[0,6000],"nice":false},"axis":{"orient":"left","values":[0,500,1000,1500,2000,2500,3000,3500,4000,4500,5000,5500,6000],"title":null,"format":"d","labelExpr":"datum.value%1000==0?datum.label:''","labelFont":"Liberation Serif","labelFontWeight":"bold","labelFontSize":30,"labelColor":"#111","labelPadding":19,"domain":false,"tickColor":"#222","tickWidth":1.5,"tickSize":{"condition":{"test":"datum.value%1000==0","value":10},"value":6}}}}},
{"data":{"values":[{"t":10.0,"D":10.0},{"t":10.03,"D":10.2},{"t":10.06,"D":10.3},{"t":10.1,"D":10.4},{"t":10.13,"D":10.3},{"t":10.16,"D":10.4},{"t":10.2,"D":10.4},{"t":10.23,"D":10.5},{"t":10.27,"D":10.4},{"t":10.3,"D":10.5},{"t":10.34,"D":10.6},{"t":10.38,"D":10.6},{"t":10.42,"D":10.7},{"t":10.46,"D":10.7},{"t":10.5,"D":10.8},{"t":10.54,"D":10.8},{"t":10.58,"D":10.9},{"t":10.62,"D":10.9},{"t":10.66,"D":11.0},{"t":10.7,"D":11.0},{"t":10.74,"D":11.1},{"t":10.78,"D":11.1},{"t":10.82,"D":11.2},{"t":10.86,"D":11.1},{"t":10.9,"D":11.0},{"t":10.94,"D":10.6},{"t":10.95,"D":11.83},{"t":10.97,"D":10.5},{"t":11.0,"D":10.6},{"t":11.04,"D":10.7},{"t":11.08,"D":10.7},{"t":11.12,"D":10.7},{"t":11.15,"D":10.7},{"t":11.17,"D":10.8},{"t":11.25,"D":9.8},{"t":11.27,"D":10.0},{"t":11.28,"D":9.45},{"t":11.26,"D":9.08},{"t":11.25,"D":8.7},{"t":11.26,"D":7.9},{"t":11.24,"D":10.7},{"t":11.37,"D":10.8},{"t":11.41,"D":10.6},{"t":11.46,"D":10.45},{"t":11.53,"D":11.28},{"t":11.58,"D":11.5},{"t":11.62,"D":11.65},{"t":11.66,"D":11.6},{"t":11.7,"D":11.74},{"t":11.74,"D":11.7},{"t":11.78,"D":11.83},{"t":11.82,"D":11.85},{"t":11.86,"D":11.9},{"t":11.93,"D":11.45},{"t":11.99,"D":12.2},{"t":12.03,"D":12.66},{"t":12.11,"D":12.56},{"t":12.17,"D":12.75},{"t":12.19,"D":13.5},{"t":12.23,"D":13.7},{"t":12.26,"D":13.9},{"t":12.29,"D":13.8},{"t":12.32,"D":13.76},{"t":12.36,"D":13.9},{"t":12.4,"D":14.0},{"t":12.44,"D":13.9},{"t":12.48,"D":14.03},{"t":12.51,"D":14.0},{"t":12.54,"D":14.03},{"t":12.63,"D":14.1},{"t":12.73,"D":14.9},{"t":12.77,"D":13.94},{"t":12.83,"D":13.94},{"t":12.87,"D":13.2},{"t":12.87,"D":12.47},{"t":12.91,"D":12.8},{"t":12.95,"D":12.56},{"t":12.99,"D":12.3},{"t":13.02,"D":12.2},{"t":13.05,"D":12.1},{"t":13.08,"D":12.0},{"t":13.11,"D":12.1},{"t":13.14,"D":12.2},{"t":13.17,"D":12.4},{"t":13.2,"D":12.66},{"t":13.23,"D":12.8},{"t":13.26,"D":12.93},{"t":13.33,"D":12.93},{"t":13.37,"D":13.67},{"t":13.45,"D":13.57},{"t":13.47,"D":14.77},{"t":13.5,"D":15.3},{"t":13.53,"D":15.87},{"t":13.55,"D":16.14},{"t":13.56,"D":16.8},{"t":13.58,"D":17.43},{"t":13.61,"D":17.7},{"t":13.64,"D":18.1},{"t":13.67,"D":18.35},{"t":13.7,"D":18.07},{"t":13.72,"D":17.8},{"t":13.74,"D":17.5},{"t":13.78,"D":17.2},{"t":13.82,"D":17.06},{"t":13.88,"D":17.15},{"t":13.92,"D":16.42},{"t":13.94,"D":16.5},{"t":13.97,"D":16.1},{"t":14.0,"D":15.96},{"t":14.04,"D":15.8},{"t":14.07,"D":15.87},{"t":14.11,"D":15.87},{"t":14.15,"D":16.1},{"t":14.19,"D":16.24},{"t":14.25,"D":15.41},{"t":14.29,"D":15.9},{"t":14.33,"D":16.05},{"t":14.35,"D":15.78},{"t":14.42,"D":16.7},{"t":14.46,"D":16.6},{"t":14.5,"D":16.5},{"t":14.54,"D":16.4},{"t":14.58,"D":16.42},{"t":14.62,"D":17.15},{"t":14.64,"D":18.26},{"t":14.7,"D":19.08},{"t":14.72,"D":19.54},{"t":14.75,"D":19.9},{"t":14.77,"D":20.18},{"t":14.8,"D":20.2},{"t":14.83,"D":20.46},{"t":14.87,"D":20.3},{"t":14.91,"D":20.55},{"t":14.96,"D":20.4},{"t":15.01,"D":20.46},{"t":15.03,"D":20.09},{"t":15.07,"D":19.45},{"t":15.09,"D":19.3},{"t":15.12,"D":19.17},{"t":15.14,"D":17.8},{"t":15.16,"D":16.7},{"t":15.19,"D":16.6},{"t":15.22,"D":16.42},{"t":15.22,"D":15.87},{"t":15.25,"D":15.9},{"t":15.28,"D":15.6},{"t":15.3,"D":14.95},{"t":15.34,"D":14.8},{"t":15.4,"D":14.58},{"t":15.4,"D":13.94},{"t":15.45,"D":13.57},{"t":15.5,"D":14.31},{"t":15.53,"D":14.68},{"t":15.57,"D":14.7},{"t":15.61,"D":14.77},{"t":15.65,"D":14.8},{"t":15.69,"D":14.86},{"t":15.73,"D":14.8},{"t":15.77,"D":14.68},{"t":15.78,"D":15.6},{"t":15.82,"D":15.3},{"t":15.86,"D":15.41},{"t":15.9,"D":15.5},{"t":15.94,"D":15.41},{"t":15.98,"D":15.6},{"t":16.04,"D":15.41},{"t":16.06,"D":16.05},{"t":16.1,"D":16.2},{"t":16.14,"D":16.33},{"t":16.18,"D":16.4},{"t":16.23,"D":16.5},{"t":16.27,"D":16.6},{"t":16.33,"D":16.24},{"t":16.37,"D":15.69},{"t":16.42,"D":15.6},{"t":16.47,"D":15.6},{"t":16.52,"D":15.55},{"t":16.58,"D":15.6},{"t":16.64,"D":15.5},{"t":16.68,"D":15.8},{"t":16.72,"D":15.96},{"t":16.76,"D":15.75},{"t":16.8,"D":15.69},{"t":16.85,"D":15.65},{"t":16.89,"D":15.6},{"t":16.95,"D":16.24},{"t":16.99,"D":16.4},{"t":17.03,"D":16.6},{"t":17.07,"D":16.75},{"t":17.11,"D":16.88},{"t":17.15,"D":16.95},{"t":17.19,"D":17.0},{"t":17.2,"D":20.92},{"t":17.24,"D":20.28},{"t":17.26,"D":19.9},{"t":17.28,"D":20.59},{"t":17.28,"D":17.8},{"t":17.32,"D":18.1},{"t":17.36,"D":18.26},{"t":17.4,"D":18.2},{"t":17.44,"D":18.07},{"t":17.46,"D":18.8},{"t":17.5,"D":19.9},{"t":17.52,"D":19.5},{"t":17.56,"D":19.45},{"t":17.6,"D":19.4},{"t":17.65,"D":19.45},{"t":17.69,"D":19.1},{"t":17.73,"D":19.0},{"t":17.77,"D":19.96},{"t":17.78,"D":21.0},{"t":17.79,"D":21.56},{"t":17.82,"D":21.7},{"t":17.85,"D":21.93},{"t":17.85,"D":22.57},{"t":17.91,"D":22.85},{"t":17.93,"D":23.4},{"t":17.96,"D":22.48},{"t":17.97,"D":24.87},{"t":18.0,"D":24.5},{"t":18.02,"D":24.65},{"t":18.04,"D":24.22},{"t":18.06,"D":24.0},{"t":18.08,"D":23.76},{"t":18.11,"D":23.9},{"t":18.14,"D":24.0},{"t":18.16,"D":23.4},{"t":18.18,"D":23.2},{"t":18.2,"D":22.94},{"t":18.24,"D":26.1},{"t":18.26,"D":23.2},{"t":18.28,"D":22.2},{"t":18.32,"D":22.6},{"t":18.36,"D":22.7},{"t":18.39,"D":22.75},{"t":18.43,"D":22.48},{"t":18.46,"D":22.2},{"t":18.49,"D":22.0},{"t":18.51,"D":21.8},{"t":18.53,"D":21.56},{"t":18.55,"D":21.3},{"t":18.57,"D":21.0},{"t":18.6,"D":20.73},{"t":18.63,"D":21.0},{"t":17.73,"D":28.78}]},
"mark":{"type":"point","shape":"circle","size":72,"filled":true,"fill":"white","stroke":"#111","strokeWidth":1,"opacity":1},"encoding":{"y":{"field":"D","type":"quantitative","scale":{"domain":[5,30],"nice":false},"axis":{"orient":"right","values":[5,7.5,10,12.5,15,17.5,20,22.5,25,27.5,30],"title":null,"labelExpr":"datum.value%5==0?datum.label:''","format":"d","labelFont":"Liberation Serif","labelFontWeight":"bold","labelFontSize":30,"labelColor":"#111","labelPadding":9,"domain":false,"tickColor":"#222","tickWidth":1.5,"tickSize":{"condition":{"test":"datum.value%5==0","value":10},"value":6}}}}},
{"encoding":{"y":{"field":"n","type":"quantitative","scale":{"domain":[0,6000],"nice":false},"axis":null}},"layer":[
{"data":{"values":[{"t":10.05,"n":383},{"t":10.69,"n":1022}]},"mark":{"type":"line","color":"#00ffff","strokeWidth":10}},
{"data":{"values":[{"t":11.23,"n":1264},{"t":14.93,"n":3225}]},"mark":{"type":"line","color":"#00ffff","strokeWidth":5}},
{"data":{"values":[{"t":11.1,"n":361},{"t":12.28,"n":4194}]},"mark":{"type":"line","color":"#e0203c","strokeWidth":5}},
{"data":{"values":[{"t":15.42,"n":5705},{"t":16.04,"n":5705}]},"mark":{"type":"line","color":"#000","strokeWidth":5}},
{"data":{"values":[{"t":9.31,"n":5445,"s":"(b)"}]},"mark":{"type":"text","align":"left","baseline":"alphabetic","fontSize":32,"fontWeight":"bold"},"encoding":{"text":{"field":"s"}}},
{"data":{"values":[{"t":16.09,"n":5577,"s":"N"},{"t":18.16,"n":5577,"s":"D"}]},"mark":{"type":"text","align":"left","baseline":"alphabetic","fontSize":30,"fontWeight":"bold"},"encoding":{"text":{"field":"s"}}},
{"data":{"values":[{"t":16.39,"n":5498,"s":"<30nm"},{"t":18.43,"n":5498,"s":"pg,1"}]},"mark":{"type":"text","align":"left","baseline":"alphabetic","fontSize":23,"fontWeight":"bold","fontStyle":"italic"},"encoding":{"text":{"field":"s"}}},
{"data":{"values":[{"t":7.32,"n":1930,"s":"N"},{"t":20.5,"n":1943,"s":"D"}]},"mark":{"type":"text","align":"left","baseline":"alphabetic","angle":270,"fontSize":32,"fontWeight":"bold"},"encoding":{"text":{"field":"s"}}},
{"data":{"values":[{"t":7.42,"n":2273,"s":"<30nm"},{"t":20.6,"n":2365,"s":"pg,1"}]},"mark":{"type":"text","align":"left","baseline":"alphabetic","angle":270,"fontSize":23,"fontWeight":"bold","fontStyle":"italic"},"encoding":{"text":{"field":"s"}}},
{"data":{"values":[{"t":7.32,"n":3225,"s":"(# cm"},{"t":7.32,"n":4572,"s":")"},{"t":20.5,"n":3026,"s":"(nm)"}]},"mark":{"type":"text","align":"left","baseline":"alphabetic","angle":270,"fontSize":28,"fontWeight":"bold"},"encoding":{"text":{"field":"s"}}},
{"data":{"values":[{"t":7.14,"n":4110,"s":"-3"}]},"mark":{"type":"text","align":"left","baseline":"alphabetic","angle":270,"fontSize":24,"fontWeight":"bold"},"encoding":{"text":{"field":"s"}}}
]}
]},
{"width":812,"height":431,"view":{"stroke":"#222","strokeWidth":1.5},"resolve":{"scale":{"y":"independent"}},"encoding":{"x":{"field":"t","type":"quantitative","scale":{"domain":[9,19],"nice":false},"axis":{"values":[9,10,11,12,13,14,15,16,17,18,19],"title":"Time","titleFont":"Liberation Serif","titleFontWeight":"bold","titleFontSize":27,"titleColor":"#111","titlePadding":3,"labelExpr":"datum.value%2==1?(datum.value<10?'0':'')+datum.value+':00':''","labelFont":"Liberation Serif","labelFontWeight":"bold","labelFontSize":27,"labelColor":"#111","labelPadding":2,"domain":false,"tickColor":"#222","tickWidth":1.5,"tickSize":{"condition":{"test":"datum.value%2==1","value":10},"value":6}}}},"layer":[
{"data":{"values":[{"t":9,"s":"SO4","v":0.0157},{"t":10,"s":"SO4","v":0.016},{"t":11,"s":"SO4","v":0.0163},{"t":12,"s":"SO4","v":0.0164},{"t":13,"s":"SO4","v":0.0166},{"t":14,"s":"SO4","v":0.0168},{"t":15,"s":"SO4","v":0.0173},{"t":16,"s":"SO4","v":0.0177},{"t":17,"s":"SO4","v":0.0184},{"t":18,"s":"SO4","v":0.0191},{"t":19,"s":"SO4","v":0.0196},{"t":9,"s":"NH4","v":0.0331},{"t":10,"s":"NH4","v":0.0336},{"t":11,"s":"NH4","v":0.034},{"t":12,"s":"NH4","v":0.0342},{"t":13,"s":"NH4","v":0.0345},{"t":14,"s":"NH4","v":0.0352},{"t":15,"s":"NH4","v":0.0362},{"t":16,"s":"NH4","v":0.0373},{"t":17,"s":"NH4","v":0.039},{"t":18,"s":"NH4","v":0.0408},{"t":19,"s":"NH4","v":0.0426},{"t":9,"s":"NO3","v":0.0028},{"t":10,"s":"NO3","v":0.0025},{"t":11,"s":"NO3","v":0.0022},{"t":12,"s":"NO3","v":0.0019},{"t":13,"s":"NO3","v":0.0019},{"t":14,"s":"NO3","v":0.0021},{"t":15,"s":"NO3","v":0.0022},{"t":16,"s":"NO3","v":0.0025},{"t":17,"s":"NO3","v":0.0029},{"t":18,"s":"NO3","v":0.0033},{"t":19,"s":"NO3","v":0.0038},{"t":12.19,"s":"SO4","v":0.05666,"k":"legend"},{"t":12.6,"s":"SO4","v":0.05666,"k":"legend"},{"t":13.03,"s":"SO4","v":0.05666,"k":"legend"},{"t":13.93,"s":"NH4","v":0.05666,"k":"legend"},{"t":14.34,"s":"NH4","v":0.05666,"k":"legend"},{"t":14.79,"s":"NH4","v":0.05666,"k":"legend"},{"t":15.67,"s":"NO3","v":0.05666,"k":"legend"},{"t":16.09,"s":"NO3","v":0.05666,"k":"legend"},{"t":16.54,"s":"NO3","v":0.05666,"k":"legend"}]},
"encoding":{"y":{"field":"v","type":"quantitative","scale":{"domain":[0,0.06],"nice":false},"axis":{"orient":"left","values":[0,0.02,0.04,0.06],"format":".2f","title":null,"labelFont":"Liberation Serif","labelFontWeight":"bold","labelFontSize":29,"labelColor":"#111","labelPadding":5,"domain":false,"tickColor":"#222","tickWidth":1.5,"tickSize":10}},"detail":{"field":"k"}},
"layer":[{"mark":{"type":"line","strokeWidth":4,"strokeCap":"round"},"encoding":{"color":{"field":"s","type":"nominal","legend":null,"scale":{"domain":["SO4","NH4","NO3"],"range":["#000000","#ff0000","#0000ff"]}}}},
{"transform":[{"filter":"datum.k!='legend'||datum.t==12.6||datum.t==14.34||datum.t==16.09"}],"mark":{"type":"point","filled":true,"fill":"white","size":170,"strokeWidth":1.5,"opacity":1,"clip":true},"encoding":{"stroke":{"field":"s","type":"nominal","legend":null,"scale":{"domain":["SO4","NH4","NO3"],"range":["#222222","#ff0000","#0000ff"]}},"shape":{"field":"s","type":"nominal","legend":null,"scale":{"domain":["SO4","NH4","NO3"],"range":["square","circle","triangle-up"]}}}}]},
{"data":{"values":[{"t":9,"a":0.048},{"t":10,"a":0.0533},{"t":11,"a":0.0606},{"t":12,"a":0.07},{"t":13,"a":0.079},{"t":14,"a":0.087},{"t":15,"a":0.0947},{"t":16,"a":0.1016},{"t":17,"a":0.1065},{"t":18,"a":0.1131},{"t":19,"a":0.1229}]},
"encoding":{"y":{"field":"a","type":"quantitative","scale":{"domain":[0,0.15],"nice":false},"axis":{"orient":"right","values":[0,0.03,0.06,0.09,0.12,0.15],"format":".2f","title":null,"labelFont":"Liberation Serif","labelFontWeight":"bold","labelFontSize":29,"labelColor":"#111","labelPadding":3,"domain":false,"tickColor":"#222","tickWidth":1.5,"tickSize":8}}},
"layer":[{"mark":{"type":"line","color":"#7b10f0","strokeWidth":4}},{"mark":{"type":"point","shape":"M-1,0H1M0,-1V1","size":170,"color":"#7b10f0","strokeWidth":1.5,"opacity":1,"clip":true}}]},
{"encoding":{"y":{"field":"v","type":"quantitative","scale":{"domain":[0,0.06],"nice":false},"axis":null}},"layer":[
{"data":{"values":[{"t":17.4,"v":0.05666},{"t":18.2,"v":0.05666}]},"mark":{"type":"line","color":"#7b10f0","strokeWidth":4,"strokeCap":"round"}},
{"data":{"values":[{"t":17.81,"v":0.05666}]},"mark":{"type":"point","shape":"M-1,0H1M0,-1V1","size":170,"color":"#7b10f0","strokeWidth":1.5,"opacity":1}},
{"data":{"values":[{"t":9.17,"v":0.0543,"s":"(c)"}]},"mark":{"type":"text","align":"left","baseline":"alphabetic","fontSize":32,"fontWeight":"bold"},"encoding":{"text":{"field":"s"}}},
{"data":{"values":[{"t":13.11,"v":0.05527,"s":"SO"},{"t":14.86,"v":0.05527,"s":"NH"},{"t":16.6,"v":0.05527,"s":"NO"},{"t":18.26,"v":0.05527,"s":"SOA"}]},"mark":{"type":"text","align":"left","baseline":"alphabetic","fontSize":27,"color":"#333"},"encoding":{"text":{"field":"s"}}},
{"data":{"values":[{"t":13.58,"v":0.05374,"s":"4"},{"t":15.39,"v":0.05374,"s":"4"},{"t":17.1,"v":0.05374,"s":"3"},{"t":13.61,"v":0.05708,"s":"2-"},{"t":15.39,"v":0.05708,"s":"+"},{"t":17.15,"v":0.05708,"s":"-"}]},"mark":{"type":"text","align":"left","baseline":"alphabetic","fontSize":16,"color":"#333"},"encoding":{"text":{"field":"s"}}},
{"data":{"values":[{"t":7.855,"v":0.00446,"s":"SO"},{"t":7.855,"v":0.0128,"s":","},{"t":7.855,"v":0.01517,"s":"NH"},{"t":7.855,"v":0.02395,"s":","},{"t":7.855,"v":0.02673,"s":"NO"},{"t":7.855,"v":0.03536,"s":"(µmol m"},{"t":7.855,"v":0.05179,"s":")"}]},"mark":{"type":"text","align":"left","baseline":"alphabetic","angle":270,"fontSize":28,"fontWeight":"bold"},"encoding":{"text":{"field":"s"}}},
{"data":{"values":[{"t":8.0,"v":0.01002,"s":"4"},{"t":8.0,"v":0.02144,"s":"4"},{"t":8.0,"v":0.03327,"s":"3"},{"t":7.645,"v":0.01044,"s":"2-"},{"t":7.645,"v":0.02144,"s":"+"},{"t":7.645,"v":0.03327,"s":"-"},{"t":7.645,"v":0.04942,"s":"-3"}]},"mark":{"type":"text","align":"left","baseline":"alphabetic","angle":270,"fontSize":19,"fontWeight":"bold"},"encoding":{"text":{"field":"s"}}},
{"data":{"values":[{"t":20.2,"v":0.0153,"s":"SOA (µg m"},{"t":20.2,"v":0.03717,"s":")"}]},"mark":{"type":"text","align":"left","baseline":"alphabetic","angle":270,"fontSize":25,"fontWeight":"bold"},"encoding":{"text":{"field":"s"}}},
{"data":{"values":[{"t":20.03,"v":0.03487,"s":"-3"}]},"mark":{"type":"text","align":"left","baseline":"alphabetic","angle":270,"fontSize":18,"fontWeight":"bold"},"encoding":{"text":{"field":"s"}}}
]}
]}
]}
]}
